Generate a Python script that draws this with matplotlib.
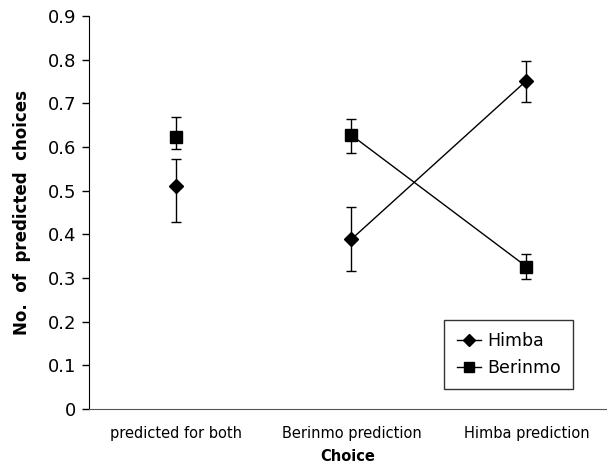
import matplotlib
matplotlib.use("Agg")
import matplotlib.pyplot as plt
import numpy as np

plt.rcParams['font.family'] = ['DejaVu Sans']

categories = ['predicted for both', 'Berinmo prediction', 'Himba prediction']

himba = [0.511, 0.389, 0.752]
himba_lo = [0.429, 0.315, 0.704]
himba_hi = [0.573, 0.463, 0.797]

berinmo = [0.623, 0.627, 0.326]
berinmo_lo = [0.595, 0.587, 0.298]
berinmo_hi = [0.669, 0.664, 0.354]

fig = plt.figure(figsize=(6.07, 4.65), dpi=100)
ax = fig.add_axes([0.1466, 0.1204, 0.8534, 0.8452])

x = np.arange(len(categories))

# error bars (asymmetric)
h_err = [np.array(himba) - np.array(himba_lo), np.array(himba_hi) - np.array(himba)]
b_err = [np.array(berinmo) - np.array(berinmo_lo), np.array(berinmo_hi) - np.array(berinmo)]
ax.errorbar(x, himba, yerr=h_err, fmt='none', ecolor='black', elinewidth=1, capsize=3.5, capthick=1)
ax.errorbar(x, berinmo, yerr=b_err, fmt='none', ecolor='black', elinewidth=1, capsize=3.5, capthick=1)

# lines only join the two prediction conditions
ax.plot(x[1:], himba[1:], color='black', lw=1)
ax.plot(x[1:], berinmo[1:], color='black', lw=1)
ax.plot(x, himba, ls='none', marker='D', ms=7, color='black')
ax.plot(x, berinmo, ls='none', marker='s', ms=8, color='black')

# legend proxies
lh, = ax.plot([], [], color='black', lw=1, marker='D', ms=6, label='Himba')
lb, = ax.plot([], [], color='black', lw=1, marker='s', ms=7, label='Berinmo')
leg = ax.legend(handles=[lh, lb], loc='lower right', bbox_to_anchor=(0.934, 0.051),
                borderaxespad=0, fontsize=12.5, frameon=True, fancybox=False,
                handlelength=1.4, handletextpad=0.35, borderpad=0.7, labelspacing=0.5)
leg.get_frame().set_edgecolor('black')
leg.get_frame().set_linewidth(1)

ax.set_xlim(-0.5, 2.46)
ax.set_ylim(0, 0.9)
ax.set_yticks(np.arange(0, 0.91, 0.1))
ax.set_yticklabels(['0'] + ['%.1f' % v for v in np.arange(0.1, 0.91, 0.1)], fontsize=13)
ax.set_xticks(x)
ax.set_xticklabels(categories, fontsize=10.5)
ax.tick_params(axis='x', length=0, pad=12)
ax.tick_params(axis='y', direction='out', length=5, width=1, pad=4)

ax.spines['top'].set_visible(False)
ax.spines['right'].set_visible(False)
ax.spines['left'].set_color('black')
ax.spines['bottom'].set_color('#555555')

ax.set_xlabel('Choice', fontsize=10.5, fontweight='bold', labelpad=6)
ax.set_ylabel('No.  of  predicted  choices', fontsize=12, fontweight='bold', labelpad=12)

fig.savefig('out.png', dpi=100)
